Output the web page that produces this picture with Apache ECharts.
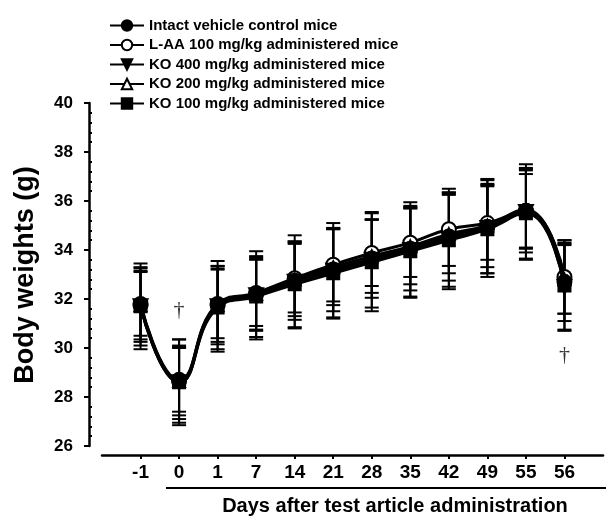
<!DOCTYPE html>
<html>
<head>
<meta charset="utf-8">
<script src="https://cdn.jsdelivr.net/npm/echarts@6/dist/echarts.min.js"></script>
<style>
  html, body { margin: 0; padding: 0; background: #fff; }
  #chart { width: 606px; height: 518px; }
</style>
</head>
<body>
<div id="chart"></div>
<script>
// Days after test article administration
const days = ['-1', '0', '1', '7', '14', '21', '28', '35', '42', '49', '55', '56'];

// Mean body weights (g)
const controlMean = [31.75, 28.65, 31.75, 32.2, 32.75, 33.2, 33.65, 34.05, 34.55, 34.95, 35.6, 32.7];
const laaMean     = [31.8, 28.7, 31.8, 32.25, 32.85, 33.4, 33.88, 34.3, 34.85, 35.1, 35.6, 32.9];
const ko400Mean   = [31.7, 28.6, 31.7, 32.15, 32.7, 33.15, 33.6, 34.0, 34.45, 34.9, 35.55, 32.5];
const ko200Mean   = [31.75, 28.65, 31.75, 32.2, 32.8, 33.3, 33.75, 34.15, 34.65, 35.0, 35.65, 32.8];
const ko100Mean   = [31.7, 28.6, 31.65, 32.1, 32.6, 33.05, 33.5, 33.95, 34.4, 34.85, 35.5, 32.55];

// Standard deviations (g)
const controlSd = [1.5, 1.7, 1.6, 1.5, 1.6, 1.7, 1.6, 1.7, 1.8, 1.9, 1.7, 1.6];
const laaSd     = [1.3, 1.3, 1.4, 1.35, 1.4, 1.5, 1.35, 1.4, 1.5, 1.5, 1.5, 1.5];
const ko400Sd   = [1.75, 1.5, 1.85, 1.8, 1.9, 1.95, 1.95, 1.95, 2.05, 2.0, 1.95, 1.75];
const ko200Sd   = [1.4, 1.4, 1.5, 1.45, 1.5, 1.55, 1.5, 1.55, 1.6, 1.7, 1.6, 1.4];
const ko100Sd   = [1.6, 1.75, 1.7, 1.65, 1.75, 1.8, 2.0, 1.85, 1.9, 1.8, 1.85, 1.85];

// Significance marks: [day, body weight position]
const daggerMarks = [['0', 31.55], ['56', 29.7]];

const yTicks = { min: 26, max: 40, step: 2 };

const FONT = '"Liberation Sans", Arial, sans-serif';
const INK = '#000';

// Category slots: an empty slot on each side gives the axis its margin
const slots = [''].concat(days, ['']);
const slotOf = d => days.indexOf(d) + 1;

// Open markers sit beneath the filled ones
const groups = [
  { name: 'Intact vehicle control mice',      mean: controlMean, sd: controlSd, symbol: 'circle',   size: 14, fill: INK,    z: 6 },
  { name: 'L-AA 100 mg/kg administered mice', mean: laaMean,     sd: laaSd,     symbol: 'circle',   size: 14, fill: '#fff', z: 2 },
  { name: 'KO 400 mg/kg administered mice',   mean: ko400Mean,   sd: ko400Sd,   symbol: 'triangle', size: 14, fill: INK,    z: 5, rotate: 180 },
  { name: 'KO 200 mg/kg administered mice',   mean: ko200Mean,   sd: ko200Sd,   symbol: 'triangle', size: 12, fill: '#fff', z: 3 },
  { name: 'KO 100 mg/kg administered mice',   mean: ko100Mean,   sd: ko100Sd,   symbol: 'rect',     size: 12, fill: INK,    z: 4 }
];

function renderErrorBar(params, api) {
  const x = api.value(0);
  const top = api.coord([x, api.value(2)]);
  const bot = api.coord([x, api.value(1)]);
  const hw = 7;
  const st = { stroke: INK, lineWidth: 2 };
  return {
    type: 'group',
    children: [
      { type: 'line', shape: { x1: top[0], y1: top[1], x2: bot[0], y2: bot[1] }, style: st },
      { type: 'line', shape: { x1: top[0] - hw, y1: top[1], x2: top[0] + hw, y2: top[1] }, style: st },
      { type: 'line', shape: { x1: bot[0] - hw, y1: bot[1], x2: bot[0] + hw, y2: bot[1] }, style: st }
    ]
  };
}

const series = [];
groups.forEach(g => {
  series.push({
    type: 'custom',
    name: g.name + ' SD',
    renderItem: renderErrorBar,
    data: days.map((d, i) => [slotOf(d), g.mean[i] - g.sd[i], g.mean[i] + g.sd[i]]),
    z: 1,
    silent: true
  });
});
groups.forEach(g => {
  series.push({
    type: 'line',
    name: g.name,
    data: days.map((d, i) => [slotOf(d), g.mean[i]]),
    smooth: 0.5,
    symbol: g.symbol,
    symbolSize: g.size,
    symbolRotate: g.rotate || 0,
    showAllSymbol: true,
    lineStyle: { color: INK, width: 3 },
    itemStyle: { color: g.fill, borderColor: INK, borderWidth: 2 },
    z: g.z,
    animation: false
  });
});
series.push({
  type: 'scatter',
  name: 'dagger',
  data: daggerMarks.map(m => [slotOf(m[0]), m[1]]),
  symbolSize: 1,
  itemStyle: { color: 'rgba(0,0,0,0)' },
  label: {
    show: true, position: 'inside', formatter: '\u2020',
    fontFamily: '"Liberation Serif", "DejaVu Serif", serif', fontSize: 22, color: INK
  },
  silent: true,
  z: 7
});

const chart = echarts.init(document.getElementById('chart'), null, { renderer: 'canvas' });
chart.setOption({
  animation: false,
  backgroundColor: '#fff',
  legend: {
    data: groups.map(g => g.name),
    orient: 'vertical',
    left: 104,
    top: 13,
    itemWidth: 34,
    itemHeight: 13,
    itemGap: 4.5,
    textStyle: { fontFamily: FONT, fontWeight: 'bold', fontSize: 15, color: INK },
    inactiveColor: '#000'
  },
  grid: { left: 102, right: -3, top: 103, bottom: 72 },
  xAxis: {
    type: 'category',
    data: slots,
    boundaryGap: false,
    offset: 9,
    axisLine: { lineStyle: { color: INK, width: 2.5 } },
    axisTick: {
      show: true, length: 4, lineStyle: { color: INK, width: 2 },
      interval: (idx, val) => val !== ''
    },
    axisLabel: {
      interval: 0, margin: 8,
      fontFamily: FONT, fontWeight: 'bold', fontSize: 19, color: INK
    },
    splitLine: { show: false }
  },
  yAxis: [
    {
      type: 'value',
      min: yTicks.min, max: yTicks.max, interval: yTicks.step,
      offset: 13,
      axisLine: { show: true, lineStyle: { color: INK, width: 2.5 } },
      axisTick: { show: true, length: 5, lineStyle: { color: INK, width: 2 } },
      axisLabel: { margin: 16, fontFamily: FONT, fontWeight: 'bold', fontSize: 17, color: INK },
      splitLine: { show: false }
    },
    {
      type: 'value',
      min: yTicks.min, max: yTicks.max, interval: yTicks.step,
      position: 'left',
      offset: 13,
      axisLine: { show: false },
      axisTick: { show: false, inside: true },
      axisLabel: { show: false },
      minorTick: { show: true, splitNumber: 5, length: 3, lineStyle: { color: INK, width: 2 } },
      splitLine: { show: false }
    }
  ],
  graphic: [
    {
      type: 'text',
      x: 26, y: 275,
      rotation: Math.PI / 2,
      style: {
        text: 'Body weights (g)', fontFamily: FONT, fontWeight: 'bold', fontSize: 27,
        fill: INK, align: 'center', verticalAlign: 'middle'
      }
    },
    {
      type: 'line',
      shape: { x1: 166, y1: 488, x2: 606, y2: 488 },
      style: { stroke: INK, lineWidth: 2 }
    },
    {
      type: 'text',
      x: 395, y: 506,
      style: {
        text: 'Days after test article administration', fontFamily: FONT, fontWeight: 'bold',
        fontSize: 20, fill: INK, align: 'center', verticalAlign: 'middle'
      }
    }
  ],
  series: series
});
</script>
</body>
</html>
